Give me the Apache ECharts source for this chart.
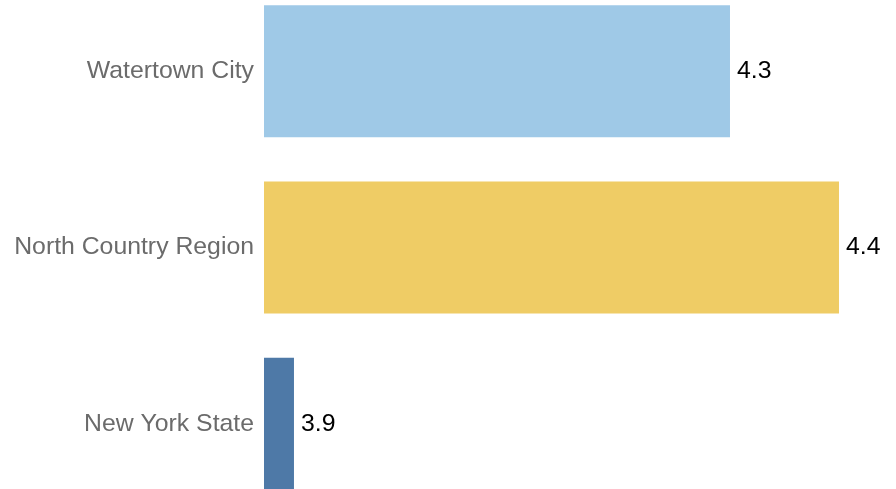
<!DOCTYPE html>
<html>
<head>
<meta charset="utf-8">
<script src="https://cdn.jsdelivr.net/npm/echarts@6/dist/echarts.min.js"></script>
<style>
  html, body { margin: 0; padding: 0; background: #ffffff; overflow: hidden; width: 896px; height: 489px; }
  /* category bands extend slightly past the visible top and bottom edges */
  #chart { position: absolute; left: 0; top: -17px; width: 896px; height: 529px; }
</style>
</head>
<body>
<div id="chart"></div>
<script>
// Regions, listed top to bottom
const regions = ['Watertown City', 'North Country Region', 'New York State'];
const values = [4.3, 4.4, 3.9];
const barColors = ['#9fc9e7', '#efcc65', '#4e79a7'];

// Value axis does not start at zero
const axisMin = 3.8725;
const axisMax = 4.4523;

const chart = echarts.init(document.getElementById('chart'), null, { renderer: 'canvas' });

chart.setOption({
  animation: false,
  backgroundColor: '#ffffff',
  grid: { left: 264, right: 0, top: 0, bottom: 0, containLabel: false },
  xAxis: {
    type: 'value',
    min: axisMin,
    max: axisMax,
    show: false
  },
  yAxis: {
    type: 'category',
    data: regions,
    inverse: true,
    axisLine: { show: false },
    axisTick: { show: false },
    splitLine: { show: false },
    axisLabel: {
      color: '#6b6b6b',
      fontSize: 24.8,
      fontFamily: 'Liberation Sans, Arial, sans-serif',
      margin: 10,
      padding: [8, 0, 0, 0]
    }
  },
  series: [{
    type: 'bar',
    barWidth: 132,
    data: values.map((v, i) => ({ value: v, itemStyle: { color: barColors[i] } })),
    label: {
      show: true,
      position: 'right',
      distance: 7,
      color: '#000000',
      fontSize: 24.8,
      fontFamily: 'Liberation Sans, Arial, sans-serif',
      padding: [8, 0, 0, 0],
      formatter: p => p.value.toFixed(1)
    }
  }]
});
</script>
</body>
</html>
